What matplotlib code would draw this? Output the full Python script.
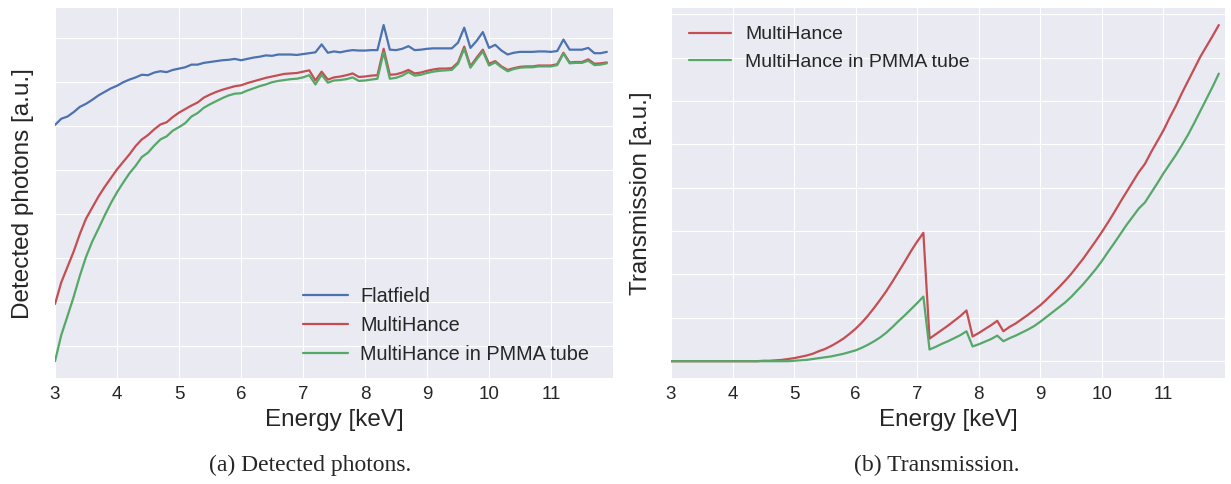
import numpy as np
import matplotlib
matplotlib.use("Agg")
import matplotlib.pyplot as plt

plt.style.use("seaborn-v0_8-darkgrid")
plt.rcParams['font.family'] = ['Liberation Sans', 'DejaVu Sans']

# energy bins [keV]
energy = np.round(np.arange(3.0, 11.91, 0.1), 2)

# (a) detected photons, arbitrary units
flatfield = [
    6.03, 6.17, 6.22, 6.32, 6.44, 6.51, 6.60, 6.70, 6.78, 6.86,
    6.92, 7.00, 7.06, 7.11, 7.17, 7.16, 7.22, 7.25, 7.23, 7.28,
    7.31, 7.34, 7.40, 7.40, 7.44, 7.46, 7.48, 7.50, 7.51, 7.53,
    7.50, 7.53, 7.56, 7.58, 7.61, 7.60, 7.63, 7.63, 7.63, 7.62,
    7.64, 7.66, 7.68, 7.86, 7.67, 7.70, 7.68, 7.71, 7.73, 7.72,
    7.72, 7.73, 7.73, 8.30, 7.74, 7.73, 7.76, 7.82, 7.73, 7.74,
    7.76, 7.77, 7.77, 7.77, 7.77, 7.90, 8.24, 7.78, 7.94, 8.14,
    7.78, 7.85, 7.72, 7.63, 7.67, 7.69, 7.69, 7.69, 7.70, 7.70,
    7.69, 7.71, 7.97, 7.74, 7.74, 7.74, 7.78, 7.66, 7.66, 7.69]
multihance = [
    1.96, 2.45, 2.80, 3.15, 3.55, 3.90, 4.15, 4.40, 4.62, 4.82,
    5.02, 5.19, 5.36, 5.55, 5.70, 5.80, 5.93, 6.04, 6.09, 6.21,
    6.31, 6.39, 6.47, 6.54, 6.65, 6.72, 6.78, 6.83, 6.87, 6.91,
    6.93, 6.98, 7.02, 7.06, 7.10, 7.13, 7.16, 7.19, 7.20, 7.21,
    7.24, 7.27, 7.04, 7.24, 7.06, 7.11, 7.13, 7.16, 7.20, 7.12,
    7.13, 7.15, 7.16, 7.76, 7.17, 7.18, 7.22, 7.28, 7.20, 7.22,
    7.26, 7.29, 7.31, 7.31, 7.32, 7.45, 7.81, 7.36, 7.56, 7.74,
    7.42, 7.48, 7.36, 7.28, 7.32, 7.35, 7.36, 7.36, 7.38, 7.38,
    7.38, 7.41, 7.67, 7.45, 7.46, 7.46, 7.52, 7.42, 7.43, 7.45]
pmma = [
    0.66, 1.25, 1.68, 2.12, 2.60, 3.03, 3.38, 3.67, 3.97, 4.25,
    4.50, 4.72, 4.93, 5.10, 5.30, 5.40, 5.56, 5.70, 5.77, 5.90,
    5.98, 6.07, 6.22, 6.30, 6.42, 6.50, 6.57, 6.64, 6.70, 6.74,
    6.75, 6.81, 6.86, 6.91, 6.95, 7.00, 7.03, 7.05, 7.07, 7.08,
    7.11, 7.16, 6.95, 7.17, 6.99, 7.04, 7.05, 7.07, 7.11, 7.03,
    7.04, 7.06, 7.08, 7.68, 7.08, 7.10, 7.15, 7.23, 7.15, 7.17,
    7.21, 7.24, 7.26, 7.27, 7.28, 7.42, 7.76, 7.33, 7.52, 7.70,
    7.38, 7.45, 7.34, 7.25, 7.30, 7.33, 7.34, 7.34, 7.36, 7.36,
    7.36, 7.39, 7.65, 7.43, 7.44, 7.44, 7.49, 7.39, 7.40, 7.43]

# (b) transmission, arbitrary units
trans_mh = [
    0.00, 0.00, 0.00, 0.00, 0.00, 0.00, 0.00, 0.00, 0.00, 0.00,
    0.00, 0.00, 0.00, 0.00, 0.00, 0.01, 0.01, 0.02, 0.03, 0.05,
    0.07, 0.10, 0.13, 0.17, 0.23, 0.28, 0.35, 0.43, 0.52, 0.63,
    0.75, 0.89, 1.05, 1.23, 1.42, 1.62, 1.84, 2.07, 2.30, 2.54,
    2.76, 2.96, 0.52, 0.62, 0.72, 0.82, 0.93, 1.04, 1.17, 0.57,
    0.65, 0.74, 0.83, 0.93, 0.69, 0.79, 0.87, 0.97, 1.07, 1.18,
    1.29, 1.42, 1.56, 1.70, 1.85, 2.01, 2.19, 2.37, 2.57, 2.77,
    2.98, 3.20, 3.43, 3.67, 3.90, 4.13, 4.36, 4.55, 4.82, 5.07,
    5.32, 5.61, 5.88, 6.18, 6.46, 6.74, 7.02, 7.26, 7.50, 7.75]
trans_pmma = [
    0.00, 0.00, 0.00, 0.00, 0.00, 0.00, 0.00, 0.00, 0.00, 0.00,
    0.00, 0.00, 0.00, 0.00, 0.00, 0.00, 0.00, 0.00, 0.00, 0.00,
    0.01, 0.02, 0.03, 0.05, 0.07, 0.09, 0.11, 0.14, 0.17, 0.21,
    0.25, 0.31, 0.38, 0.46, 0.55, 0.66, 0.79, 0.93, 1.06, 1.20,
    1.34, 1.49, 0.27, 0.33, 0.40, 0.46, 0.53, 0.60, 0.69, 0.34,
    0.39, 0.45, 0.51, 0.59, 0.46, 0.53, 0.59, 0.66, 0.73, 0.81,
    0.91, 1.02, 1.13, 1.24, 1.35, 1.48, 1.63, 1.78, 1.95, 2.12,
    2.31, 2.52, 2.72, 2.93, 3.14, 3.33, 3.52, 3.66, 3.88, 4.10,
    4.33, 4.54, 4.75, 4.98, 5.22, 5.49, 5.77, 6.05, 6.33, 6.63]

xticks = list(range(3, 12))

blue = '#4C72B0'
red = '#C44E52'
green = '#55A868'

fig = plt.figure(figsize=(12.31, 4.84), dpi=100)
fig.patch.set_facecolor('white')

ax1 = fig.add_axes([0.0447, 0.219, 0.4533, 0.764])
ax2 = fig.add_axes([0.5451, 0.219, 0.4500, 0.764])

ax1.plot(energy, flatfield, color=blue, lw=1.6, label='Flatfield')
ax1.plot(energy, multihance, color=red, lw=1.6, label='MultiHance')
ax1.plot(energy, pmma, color=green, lw=1.6, label='MultiHance in PMMA tube')
ax1.set_yticks(range(1, 9))
ax1.set_ylabel('Detected photons [a.u.]', fontsize=17.5, labelpad=11.5)
ax1.legend(loc='lower right', bbox_to_anchor=(1.0, -0.027), fontsize=14.3,
           frameon=False, handlelength=2.3, handletextpad=0.6, borderaxespad=0.8)

ax2.plot(energy, trans_mh, color=red, lw=1.6, label='MultiHance')
ax2.plot(energy, trans_pmma, color=green, lw=1.6, label='MultiHance in PMMA tube')
ax2.set_yticks(range(0, 9))
ax2.set_ylabel('Transmission [a.u.]', fontsize=17.5, labelpad=10.5)
ax2.legend(loc='upper left', fontsize=14, frameon=False,
           handlelength=2.2, handletextpad=0.7)

for ax in (ax1, ax2):
    ax.set_xlim(3, 12)
    ax.set_xticks(xticks)
    ax.set_yticklabels([])
    ax.tick_params(axis='x', labelsize=13.5, colors='#262626', pad=6)
    ax.set_xlabel('Energy [keV]', fontsize=17.5, color='#262626')
    ax.yaxis.label.set_color('#262626')

fig.text(0.252, 0.038, '(a) Detected photons.', ha='center', va='center',
         fontsize=17, family=['Liberation Serif', 'DejaVu Serif'])
fig.text(0.761, 0.038, '(b) Transmission.', ha='center', va='center',
         fontsize=17, family=['Liberation Serif', 'DejaVu Serif'])

fig.savefig('out.png', dpi=100)
